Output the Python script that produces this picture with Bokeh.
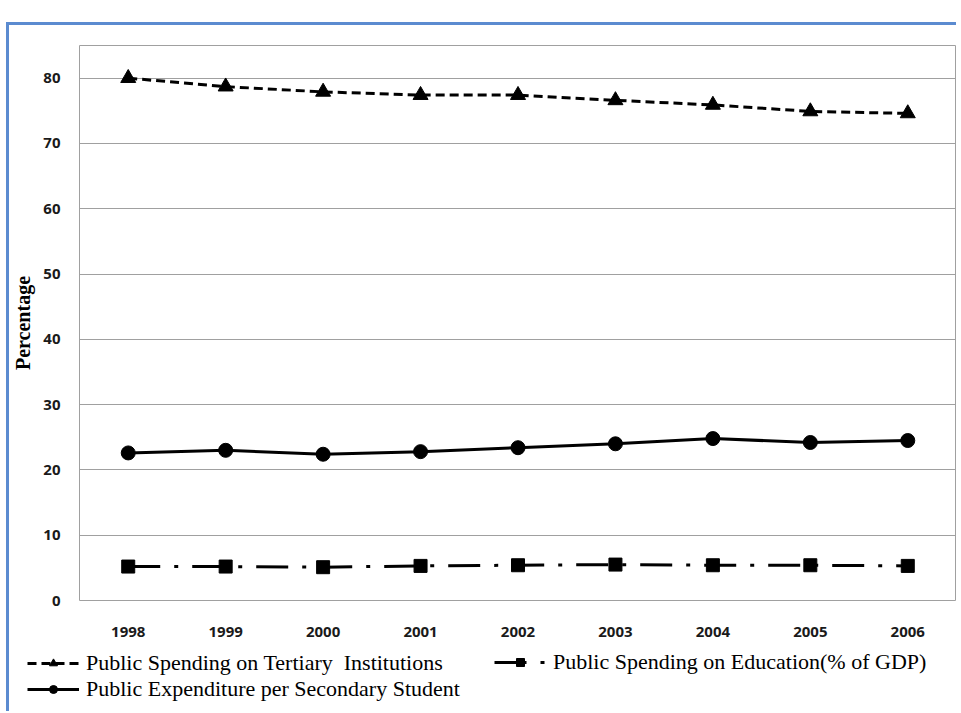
from bokeh.plotting import figure
from bokeh.models import FactorRange, Range1d, Legend, LegendItem, Spacer, SingleIntervalTicker
from bokeh.layouts import column
from bokeh.embed import file_html
from bokeh.resources import INLINE

years = ["1998", "1999", "2000", "2001", "2002", "2003", "2004", "2005", "2006"]
tertiary = [80.0, 78.7, 77.9, 77.4, 77.4, 76.6, 75.9, 74.9, 74.6]
secondary = [22.6, 23.0, 22.4, 22.8, 23.4, 24.0, 24.8, 24.2, 24.5]
gdp = [5.2, 5.2, 5.1, 5.3, 5.4, 5.5, 5.4, 5.4, 5.3]

label_tertiary = "Public Spending on Tertiary  Institutions"
label_secondary = "Public Expenditure per Secondary Student"
label_gdp = "Public Spending on Education(% of GDP)"

W = 947

p = figure(
    width=W, height=620,
    x_range=FactorRange(*years), y_range=Range1d(0, 85),
    output_backend="svg", toolbar_location=None,
    min_border_left=60, min_border_top=20, min_border_bottom=45, min_border_right=0,
)
p.frame_align = False

p.outline_line_color = "#a0a0a0"
p.outline_line_width = 1
p.xgrid.grid_line_color = None
p.ygrid.grid_line_color = "#a0a0a0"
p.ygrid.grid_line_width = 1
p.yaxis.ticker = SingleIntervalTicker(interval=10)

for ax in (p.xaxis[0], p.yaxis[0]):
    ax.axis_line_color = None
    ax.major_tick_line_color = None
    ax.minor_tick_line_color = None
    ax.major_tick_out = 0
    ax.major_label_text_font = "Open Sans"
    ax.major_label_text_font_style = "bold"
    ax.major_label_text_font_size = "15px"
    ax.major_label_text_color = "#1a1a1a"

p.xaxis.major_label_standoff = 26
p.yaxis.major_label_standoff = 15
p.yaxis.axis_label = "Percentage"
p.yaxis.axis_label_text_font = "Liberation Serif"
p.yaxis.axis_label_text_font_style = "bold"
p.yaxis.axis_label_text_font_size = "20px"
p.yaxis.axis_label_text_color = "black"
p.yaxis.axis_label_standoff = 6

styles = [
    (tertiary, "triangle", 15, "9 5"),
    (secondary, "circle", 14, "solid"),
    (gdp, "square", 13, "32 14 4 14"),
]
for vals, marker, size, dash in styles:
    p.line(years, vals, line_color="black", line_width=3, line_dash=dash)
    p.scatter(years, vals, marker=marker, size=size, fill_color="black", line_color="black")

# legend strip below the chart
q = figure(
    width=W, height=66,
    x_range=FactorRange(*years), y_range=Range1d(0, 85),
    output_backend="svg", toolbar_location=None,
    x_axis_location=None, y_axis_location=None,
    min_border=0, min_border_left=0, min_border_right=0, min_border_top=0, min_border_bottom=0,
)
q.frame_align = False
q.grid.visible = False
q.outline_line_color = None

leg_r = []
for vals, marker, size, dash in styles:
    ln = q.line(years, vals, line_color="black", line_width=3, line_dash=dash, visible=False)
    mk = q.scatter(years, vals, marker=marker, size=10, fill_color="black", line_color="black", visible=False)
    leg_r.append([ln, mk])

common = dict(
    label_text_font="Liberation Serif", label_text_font_size="22px",
    label_text_color="black",
    glyph_width=52, glyph_height=20, label_height=20, spacing=0,
    label_standoff=7, padding=0, margin=0,
    border_line_color=None, background_fill_alpha=0,
)
leg1 = Legend(items=[LegendItem(label=label_tertiary, renderers=leg_r[0]),
                     LegendItem(label=label_secondary, renderers=leg_r[1])],
              location=(18, 9), **common)
leg2 = Legend(items=[LegendItem(label=label_gdp, renderers=leg_r[2])],
              location=(485, 36), **common)
q.add_layout(leg1)
q.add_layout(leg2)

inner = column(p, q, styles={"border-top": "3px solid #5b8bd0",
                             "border-left": "3px solid #5b8bd0",
                             "margin-left": "6px"})
layout = column(Spacer(height=22, width=W), inner)
open("out.html", "w").write(file_html(layout, INLINE))
